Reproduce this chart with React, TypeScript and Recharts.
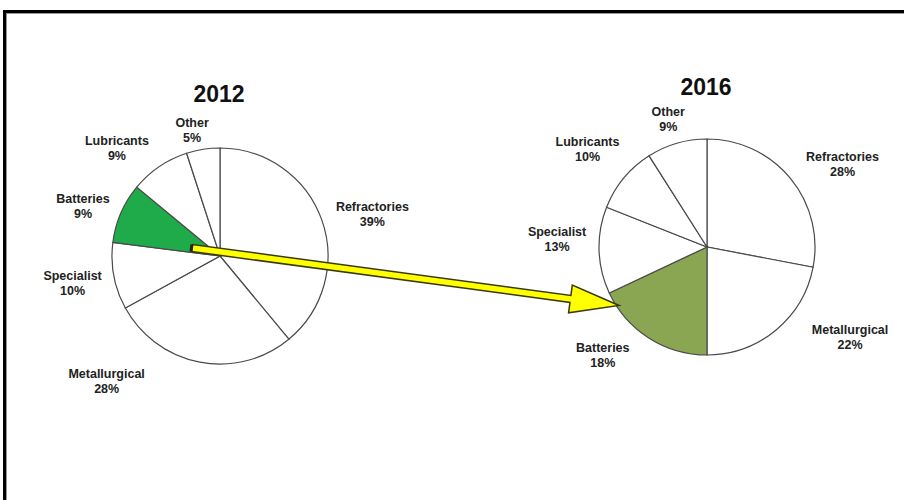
import { PieChart, Pie, Cell } from 'recharts';

// 2012 and 2016 end-use shares, clockwise from 12 o'clock
const years = ['2012', '2016'];
const names2012 = ['Refractories', 'Metallurgical', 'Specialist', 'Batteries', 'Lubricants', 'Other'];
const values2012 = [39, 28, 10, 9, 9, 5];
const names2016 = ['Refractories', 'Metallurgical', 'Batteries', 'Specialist', 'Lubricants', 'Other'];
const values2016 = [28, 22, 18, 13, 10, 9];

const data2012 = names2012.map((name, i) => ({ name, value: values2012[i] }));
const data2016 = names2016.map((name, i) => ({ name, value: values2016[i] }));

const W = 904;
const H = 500;
const R = 108;
const C1 = { x: 220, y: 256 };
const C2 = { x: 707, y: 247 };

const FONT = '"Liberation Sans", Arial, sans-serif';
const RAD = Math.PI / 180;

// label nudges relative to a point 38px outside the slice's mid angle
const nudge2012: Record<string, [number, number]> = {
  Refractories: [15, 7],
  Metallurgical: [-86, -18],
  Specialist: [-4, 0],
  Batteries: [-3, 8],
  Lubricants: [-21, 13],
  Other: [-5, 18],
};
const nudge2016: Record<string, [number, number]> = {
  Refractories: [23, 10],
  Metallurgical: [50, -22],
  Batteries: [-26, -15],
  Specialist: [-4, -13],
  Lubricants: [-7, -5],
  Other: [2, 12],
};

function makeLabel(nudges: Record<string, [number, number]>) {
  return (props: any) => {
    const { cx, cy, midAngle, outerRadius, name, value } = props;
    const r = outerRadius + 38;
    const [dx, dy] = nudges[name] || [0, 0];
    const x = cx + r * Math.cos(-midAngle * RAD) + dx;
    const y = cy + r * Math.sin(-midAngle * RAD) + dy;
    return (
      <text
        x={x}
        y={y}
        textAnchor="middle"
        fill="#222"
        fontFamily={FONT}
        fontWeight="bold"
        fontSize={12.5}
      >
        <tspan x={x} dy={-3}>{name}</tspan>
        <tspan x={x} dy={15}>{value}%</tspan>
      </text>
    );
  };
}

function arrowPoints(x1: number, y1: number, x2: number, y2: number, shaft: number, head: number, headLen: number) {
  const len = Math.hypot(x2 - x1, y2 - y1);
  const ux = (x2 - x1) / len;
  const uy = (y2 - y1) / len;
  const px = -uy;
  const py = ux;
  const bx = x2 - ux * headLen;
  const by = y2 - uy * headLen;
  const pts = [
    [x1 + px * shaft, y1 + py * shaft],
    [bx + px * shaft, by + py * shaft],
    [bx + px * head, by + py * head],
    [x2, y2],
    [bx - px * head, by - py * head],
    [bx - px * shaft, by - py * shaft],
    [x1 - px * shaft, y1 - py * shaft],
  ];
  return pts.map((p) => p.join(',')).join(' ');
}

export default function App() {
  return (
    <div style={{ position: 'absolute', left: 0, top: 0, width: W, height: H, background: '#fff', overflow: 'hidden' }}>
      {/* frame */}
      <div style={{ position: 'absolute', left: 3, top: 10, width: W + 20, height: H + 20, borderTop: '3px solid #000', borderLeft: '3px solid #000', boxShadow: 'inset 1px 1px 0 #999' }} />

      <div style={{ position: 'absolute', left: 0, top: 0 }}>
        <PieChart width={W} height={H} margin={{ top: 0, right: 0, bottom: 0, left: 0 }}>
          <Pie
            data={data2012}
            dataKey="value"
            nameKey="name"
            cx={C1.x}
            cy={C1.y}
            outerRadius={R}
            startAngle={90}
            endAngle={-270}
            stroke="#4a4a4a"
            strokeWidth={1.2}
            label={makeLabel(nudge2012)}
            labelLine={false}
            isAnimationActive={false}
          >
            {data2012.map((d) => (
              <Cell key={d.name} fill={d.name === 'Batteries' ? '#1fab4a' : '#ffffff'} />
            ))}
          </Pie>
          <Pie
            data={data2016}
            dataKey="value"
            nameKey="name"
            cx={C2.x}
            cy={C2.y}
            outerRadius={R}
            startAngle={90}
            endAngle={-270}
            stroke="#4a4a4a"
            strokeWidth={1.2}
            label={makeLabel(nudge2016)}
            labelLine={false}
            isAnimationActive={false}
          >
            {data2016.map((d) => (
              <Cell key={d.name} fill={d.name === 'Batteries' ? '#8aa653' : '#ffffff'} />
            ))}
          </Pie>
        </PieChart>
      </div>

      <svg width={W} height={H} style={{ position: 'absolute', left: 0, top: 0, pointerEvents: 'none' }}>
        <text x={219} y={102} textAnchor="middle" fontFamily={FONT} fontWeight="bold" fontSize={23} fill="#111">{years[0]}</text>
        <text x={706} y={95} textAnchor="middle" fontFamily={FONT} fontWeight="bold" fontSize={23} fill="#111">{years[1]}</text>
        <polygon
          points={arrowPoints(192, 248, 619, 305.5, 3.5, 14, 49)}
          fill="#ffff00"
          stroke="#3a3a10"
          strokeWidth={1.5}
          strokeLinejoin="miter"
        />
        <line x1={192} y1={244.5} x2={191} y2={251.5} stroke="#222" strokeWidth={3} />
      </svg>
    </div>
  );
}
